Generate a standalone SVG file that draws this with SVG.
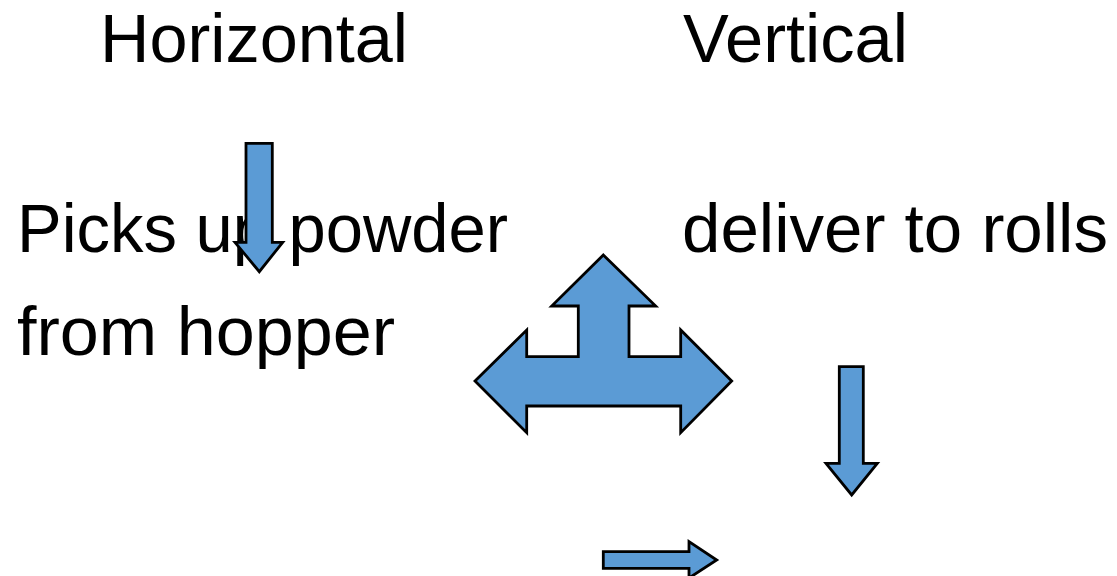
<svg xmlns="http://www.w3.org/2000/svg" width="1117" height="576" viewBox="0 0 1117 576">
<style>
.t{font-family:"Liberation Sans",Arial,sans-serif;font-size:68px;fill:#000}
.a{fill:#5B9BD5;stroke:#000;stroke-width:2.8;stroke-linejoin:miter}
</style>
<rect width="1117" height="576" fill="#fff"/>
<g id="labels">
<text class="t" x="100" y="62" textLength="308" lengthAdjust="spacingAndGlyphs">Horizontal</text>
<text class="t" x="683" y="62" textLength="225" lengthAdjust="spacingAndGlyphs">Vertical</text>
<text class="t" x="17" y="252" textLength="491" lengthAdjust="spacingAndGlyphs">Picks up powder</text>
<text class="t" x="17" y="355" textLength="378" lengthAdjust="spacingAndGlyphs">from hopper</text>
<text class="t" x="682" y="252" textLength="426" lengthAdjust="spacingAndGlyphs">deliver to rolls</text>
</g>
<g id="connectors">
<polygon id="arrow-down-1" class="a" points="246,143.3 272.3,143.3 272.3,242.3 282.7,242.3 259.3,271.7 235,242.3 246,242.3"/>
<polygon id="arrow-three-way" class="a" points="603.3,255 655.7,306 629,306 629,356.7 680.7,356.7 680.7,330 731.7,381 680.7,432.7 680.7,406 526.7,406 526.7,432.7 475,381 526.7,330 526.7,356.7 578.3,356.7 578.3,306 551.7,306"/>
<polygon id="arrow-down-2" class="a" points="839.3,366.7 863.3,366.7 863.3,463.3 877.3,463.3 851.7,495 826,463.3 839.3,463.3"/>
<polygon id="arrow-right" class="a" points="603.3,551.7 689,551.7 689,541.7 716.7,560 689,578 689,568.3 603.3,568.3"/>
</g>
</svg>
